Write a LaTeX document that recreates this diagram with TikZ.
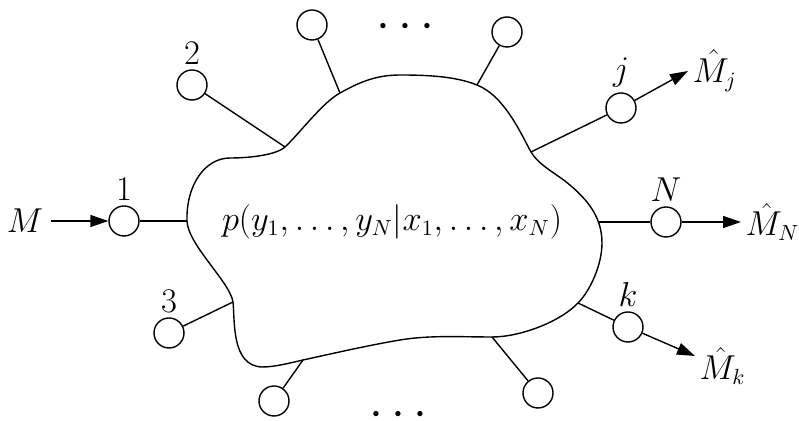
\documentclass[tikz,border=0pt]{standalone}
\usepackage{amsmath,amssymb}
\usepackage{tikz}
\usetikzlibrary{arrows.meta}

\begin{document}
\begin{tikzpicture}[x=0.5pt,y=-0.5pt,line width=0.7pt,
  >={Triangle[length=9pt,width=6pt]},
  every node/.style={font=\fontsize{16}{19}\selectfont},
  term/.style={circle,draw,line width=0.7pt,minimum size=15pt,inner sep=0pt},
  dots/.style={font=\fontsize{24}{28}\selectfont,inner sep=0pt},
  every label/.style={inner sep=1pt},label distance=1pt]
  \useasboundingbox (0,0) rectangle (799,421);
  % where the terminals meet the channel
  \coordinate (e1) at (187,221);
  \coordinate (e2) at (285,147);
  \coordinate (e3) at (233,302);
  \coordinate (ea) at (340,93);
  \coordinate (eb) at (477,85);
  \coordinate (ej) at (531,152);
  \coordinate (eN) at (599,222);
  \coordinate (ek) at (578,303);
  \coordinate (ec) at (303,360);
  \coordinate (ed) at (492,337);
  \draw (ea) .. controls (322,103) and (300,133) .. (e2)
    .. controls (276,155) and (250,158) .. (230,158)
    .. controls (205,158) and (186,185) .. (e1)
    .. controls (188,245) and (230,282) .. (e3)
    .. controls (235,320) and (231,366) .. (262,367)
    .. controls (275,367) and (290,363) .. (ec)
    .. controls (335,353) and (370,345) .. (400,340)
    .. controls (430,335) and (460,337) .. (ed)
    .. controls (520,337) and (560,322) .. (ek)
    .. controls (590,291) and (602,265) .. (602,243)
    .. controls (602,215) and (585,197) .. (565,181)
    .. controls (553,172) and (538,164) .. (ej)
    .. controls (522,136) and (505,96) .. (eb)
    .. controls (455,76) and (425,75) .. (400,75)
    .. controls (375,75) and (358,83) .. (ea) -- cycle;
  \node (pch) at (392,222) {$p(y_1,\ldots,y_N|x_1,\ldots,x_N)$};
  % terminals
  \node[term,label=above:$1$] (t1) at (124,221) {};
  \node[term,label=above:$2$] (t2) at (192,85) {};
  \node[term,label=above:$3$] (t3) at (169,333) {};
  \node[term] (ta) at (312,25) {};
  \node[term] (tb) at (507,32) {};
  \node[term,label=above:$j$] (tj) at (621,108) {};
  \node[term,label=above:$N$] (tN) at (666,222) {};
  \node[term,label=above:$k$] (tk) at (628,327) {};
  \node[term] (tc) at (274,401) {};
  \node[term] (td) at (538,393) {};
  \foreach \t in {1,2,3,a,b,j,N,k,c,d}
    \draw (e\t) -- (t\t);
  \node[dots] (dtop) at (410,27) {$\cdots$};
  \node[dots] (dbot) at (403,415) {$\cdots$};
  % messages
  \node (m) at (25,221) {$M$};
  \draw[->] (m) -- (t1);
  \coordinate (oj) at (688,71);
  \coordinate (oN) at (741,222);
  \coordinate (ok) at (695,356);
  \draw[->] (tj) -- (oj);
  \draw[->] (tN) -- (oN);
  \draw[->] (tk) -- (ok);
  \node[anchor=west,inner sep=2pt] (mj) at (oj) {$\hat{M}_j$};
  \node[anchor=west,inner sep=2pt] (mN) at (oN) {$\hat{M}_N$};
  \node[anchor=west,inner sep=2pt,yshift=-5pt] (mk) at (ok) {$\hat{M}_k$};
\end{tikzpicture}
\end{document}
